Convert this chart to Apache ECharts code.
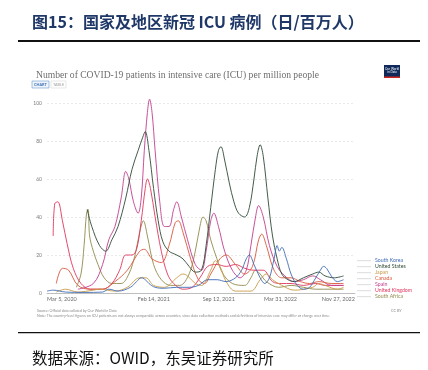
<!DOCTYPE html>
<html><head><meta charset="utf-8">
<script src="https://cdn.jsdelivr.net/npm/echarts@6/dist/echarts.min.js"></script>
<style>html,body{margin:0;padding:0;background:#fff}#c{width:428px;height:370px}</style>
</head><body><div id="c"></div>
<script>
// x values: days since Mar 5, 2020
const tickDays = [0, 346, 556, 756, 997];
const tickLabels = ['Mar 5, 2020', 'Feb 14, 2021', 'Sep 12, 2021', 'Mar 31, 2022', 'Nov 27, 2022'];
const yTicks = [0, 20, 40, 60, 80, 100];
const countries = ['South Korea', 'United States', 'Japan', 'Canada', 'Spain', 'United Kingdom', 'South Africa'];

const krDays = [0,20,60,120,180,200,230,270,290,305,315,330,350,380,420,460,490,520,550,580,610,630,645,655,670,690,705,720,735,745,752,760,775,790,810,830,850,870,885,895,905,920,940,960];
const krVals = [1,1.5,0.5,0.3,0.5,2,1,3,6,8,7.5,5,3,2.5,3,3,4,7,7,6,8,12,18,20,15,8,5,8,18,25,22,24,18,10,4,2,3,8,12,14,13,9,6,7];

const usDays = [130,145,170,190,210,230,255,275,295,310,318,330,345,360,375,395,420,440,460,480,500,515,530,545,555,563,575,590,605,620,640,655,670,680,690,700,715,730,745,760,780,800,830,860,880,900,930,960];
const usVals = [44,35,25,22,28,35,50,65,75,82,85,75,55,38,27,22,20,18,14,11,12,25,45,65,75,77,70,58,48,42,40,45,60,72,78,72,50,30,18,10,7,6,8,10,11,9,8,9];

const jpDays = [30,60,100,150,170,220,260,300,320,345,380,420,440,455,480,500,530,545,560,580,610,660,690,710,730,760,800,860,880,900,940,960];
const jpVals = [0.5,2,0.5,1.5,2,1,3,8,8,4,3,8,10,9,5,4,12,17,14,6,1,1,7,10,7,4,1.5,3,5,4,2,3];

const caDays = [30,50,70,100,140,180,220,260,300,315,340,370,395,415,425,440,465,490,510,530,560,580,610,640,665,685,695,710,735,760,790,820,850,880,920,960];
const caVals = [5,13,12,4,2,2,6,12,22,23,18,16,25,37,38,32,18,7,5,10,18,20,15,10,14,28,31,25,12,8,8,6,5,6,5,5];

const esDays = [100,150,180,200,220,240,255,265,280,295,305,315,325,332,340,350,365,380,395,410,420,435,455,480,500,515,530,540,555,575,600,625,645,660,675,685,700,720,745,770,800,830,860,885,920,960];
const esVals = [2,5,15,28,35,50,64,60,48,42,50,75,95,102,95,75,48,35,35,44,48,40,28,15,12,22,38,42,35,22,12,8,12,25,40,46,40,25,14,9,6,7,9,7,4,4];

const ukDays = [20,25,35,50,65,85,110,140,180,210,235,255,275,290,305,318,325,335,350,370,390,410,440,470,495,520,550,580,610,640,670,700,730,760,790,830,870,900,960];
const ukVals = [30,47,48,38,26,13,5,2,2,5,12,20,20,23,38,55,60,55,40,22,10,5,2,3,8,14,15,14,15,13,12,12,6,5,5,4,5,4,4];

const zaDays = [95,110,120,128,133,138,150,165,185,210,240,265,285,300,312,325,345,370,400,430,460,480,495,505,515,530,550,570,600,640,660,675,690,710,750,790,830,870,920,960];
const zaVals = [3,10,25,42,44,30,22,15,8,5,5,10,20,32,38,30,15,7,4,4,10,22,35,40,38,28,18,10,5,4,8,12,10,6,3,4,3,2,2,2];

const colors = ['#3e6bb5', '#2f4a35', '#c99a45', '#d9583b', '#c23d8d', '#e0365e', '#908a4c'];
const seriesDays = [krDays, usDays, jpDays, caDays, esDays, ukDays, zaDays];
const seriesVals = [krVals, usVals, jpVals, caVals, esVals, ukVals, zaVals];

const chart = echarts.init(document.getElementById('c'), null, {renderer: 'canvas'});
const series = countries.map((name, i) => ({
  name, type: 'line', showSymbol: false, smooth: 0.35, clip: false,
  lineStyle: {width: 0.9, color: colors[i]}, itemStyle: {color: colors[i]},
  data: seriesDays[i].map((d, j) => [d, seriesVals[i][j]]),
  z: 10 - i
}));

const note = 'Note: The country-level figures on ICU patients are not always comparable across countries, since data collection methods and definitions of intensive care may differ or change over time.';

chart.setOption({
  animation: false,
  grid: {left: 47, right: 73, top: 103, bottom: 77},
  xAxis: {
    type: 'value', min: 0, max: 997,
    axisLine: {show: true, lineStyle: {color: '#b0b0b0', width: 0.8}},
    axisTick: {show: false}, splitLine: {show: false},
    axisLabel: {
      customValues: tickDays, fontSize: 5.5, color: '#6b6b6b', margin: 3,
      fontFamily: 'Lato', alignMinLabel: 'left', alignMaxLabel: 'right',
      formatter: v => { const k = tickDays.indexOf(v); return k >= 0 ? tickLabels[k] : ''; }
    }
  },
  yAxis: {
    type: 'value', min: 0, max: 100, interval: 20,
    axisLine: {show: false}, axisTick: {show: false},
    splitLine: {lineStyle: {color: '#dcdcdc', type: [2, 2], width: 0.6}},
    axisLabel: {fontSize: 5, color: '#7a7a7a', margin: 5, fontFamily: 'Lato',
      formatter: v => yTicks.includes(v) ? String(v) : ''}
  },
  legend: {
    orient: 'vertical', left: 352, top: 253, itemGap: 0.4,
    itemWidth: 14, itemHeight: 0.6, icon: 'rect',
    textStyle: {fontSize: 5.2, fontFamily: 'Lato', lineHeight: 5.6, padding: [0, 0, 0, -1]},
    data: countries.map((n, i) => ({name: n, itemStyle: {color: '#c4c4c4'}, textStyle: {color: colors[i]}})),
    selectedMode: false
  },
  title: [
    {text: '图15：国家及地区新冠 ICU 病例（日/百万人）', left: 27, top: 9,
      textStyle: {fontSize: 16, fontWeight: 'bold', color: '#1f3868', fontFamily: 'Noto Sans CJK SC'}},
    {text: 'Number of COVID-19 patients in intensive care (ICU) per million people', left: 31, top: 65,
      textStyle: {fontSize: 9.6, fontWeight: 'normal', color: '#6e6e6e', fontFamily: 'Liberation Serif'}},
    {text: 'Source: Official data collated by Our World in Data', left: 32, top: 304,
      textStyle: {fontSize: 3.6, fontWeight: 'normal', color: '#8a8a8a', fontFamily: 'Lato'}},
    {text: note, left: 32, top: 309,
      textStyle: {fontSize: 3.6, fontWeight: 'normal', color: '#8a8a8a', fontFamily: 'Lato'}},
    {text: 'CC BY', left: 386, top: 304,
      textStyle: {fontSize: 3.8, fontWeight: 'normal', color: '#8a8a8a', fontFamily: 'Lato'}},
    {text: '数据来源：OWID，东吴证券研究所', left: 27, top: 345,
      textStyle: {fontSize: 15.5, fontWeight: 'normal', color: '#111', fontFamily: 'Noto Sans CJK SC'}}
  ],
  graphic: [
    {type: 'rect', shape: {x: 18, y: 40, width: 402, height: 2}, style: {fill: '#111'}},
    {type: 'rect', shape: {x: 18, y: 332, width: 402, height: 1.2}, style: {fill: '#111'}},
    // tabs
    {type: 'rect', shape: {x: 32, y: 81, width: 17, height: 7}, style: {fill: '#eef4fb', stroke: '#6b9bd2', lineWidth: 0.6}},
    {type: 'text', style: {x: 34, y: 82.5, text: 'CHART', fontSize: 3.8, fill: '#3b6db3', fontFamily: 'Lato', fontWeight: 'bold'}},
    {type: 'rect', shape: {x: 51, y: 81, width: 15, height: 7}, style: {fill: '#fff', stroke: '#d8d8d8', lineWidth: 0.6}},
    {type: 'text', style: {x: 53, y: 82.5, text: 'TABLE', fontSize: 3.8, fill: '#9a9a9a', fontFamily: 'Lato'}},
    // logo
    {type: 'rect', shape: {x: 384, y: 65, width: 16, height: 13}, style: {fill: '#0f2a5a'}},
    {type: 'rect', shape: {x: 384, y: 76.5, width: 16, height: 1.5}, style: {fill: '#ce261e'}},
    {type: 'text', style: {x: 392, y: 67, text: 'Our World\nin Data', fontSize: 3, lineHeight: 3.6, fill: '#fff', align: 'center', fontFamily: 'Lato'}}
  ],
  series
});
</script></body></html>
